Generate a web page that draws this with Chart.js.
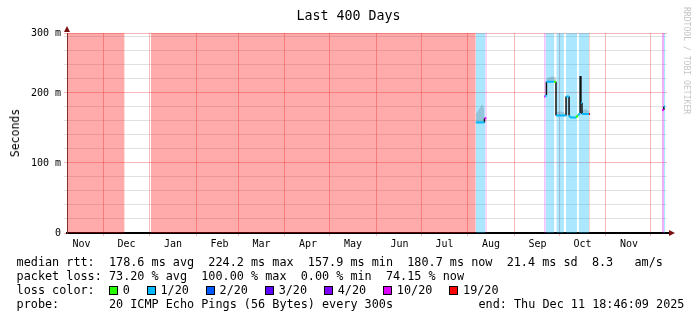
<!DOCTYPE html>
<html>
<head>
<meta charset="utf-8">
<script src="https://cdn.jsdelivr.net/npm/chart.js@4.4.1/dist/chart.umd.min.js"></script>
<style>
body { margin: 0; background: #fff; }
#wrap { position: relative; width: 697px; height: 321px; font-family: 'DejaVu Sans Mono', monospace; color: #000; overflow: hidden; }
#chart { position: absolute; left: 0; top: 0; }
.title { position: absolute; left: 0; top: 8px; width: 697px; text-align: center; font-size: 13.3px; line-height: 16px; }
.unit { position: absolute; left: 15px; top: 133px; transform: translate(-50%, -50%) rotate(-90deg); font-size: 11.5px; white-space: nowrap; }
.legend { position: absolute; left: 16.6px; top: 254.5px; font-size: 11.8px; line-height: 14px; white-space: pre; }
.legend .box { display: inline-block; width: 7px; height: 7px; border: 1px solid #000; vertical-align: -1px; margin-right: 4.7px; }
.legend .lbl { margin-right: 17px; }
.end { position: absolute; left: 478.5px; top: 296.5px; font-size: 11.8px; line-height: 14px; white-space: pre; }
.mark { position: absolute; left: 682px; top: 7px; writing-mode: vertical-rl; font-size: 8.1px; color: #c4c4c4; white-space: nowrap; }
</style>
</head>
<body>
<div id="wrap">
  <canvas id="chart" width="697" height="321"></canvas>
  <div class="title">Last 400 Days</div>
  <div class="unit">Seconds</div>
  <div class="legend" id="legend"></div>
  <div class="end">end: Thu Dec 11 18:46:09 2025</div>
  <div class="mark">RRDTOOL / TOBI OETIKER</div>
</div>
<script>
// time axis: days since start of the 400 day window
const endTime = Date.UTC(2025, 11, 11, 18, 46, 9);
const spanDays = 400;
const monthStarts = ['2024-11-01', '2024-12-01', '2025-01-01', '2025-02-01', '2025-03-01', '2025-04-01', '2025-05-01',
    '2025-06-01', '2025-07-01', '2025-08-01', '2025-09-01', '2025-10-01', '2025-11-01', '2025-12-01'];
const monthLabels = ['Nov', 'Dec', 'Jan', 'Feb', 'Mar', 'Apr', 'May', 'Jun', 'Jul', 'Aug', 'Sep', 'Oct', 'Nov', 'Dec'];

// y axis (ms), rigid top
const yTop = 285.7;
const yTickValues = [0, 100, 200, yTop];
const yTickLabels = ['0', '100 m', '200 m', '300 m'];

// loss colours: 0, 1/20, 2/20, 3/20, 4/20, 10/20, 19/20
const lossLabels = ['0', '1/20', '2/20', '3/20', '4/20', '10/20', '19/20'];
const lossColors = ['#26ff00', '#00b8ff', '#0059ff', '#5e00ff', '#7e00ff', '#dd00ff', '#ff0000'];

// loss background bands (day from, day to, loss level)
const lossStart = [0, 56.0, 272.5, 278.9, 318.1, 319.1, 326.2, 332.7, 341.1, 348.2, 396.7, 398.0];
const lossEnd   = [38.4, 272.5, 278.9, 279.8, 319.1, 324.9, 331.3, 340.0, 348.2, 348.8, 398.0, 398.9];
const lossLevel = [6, 6, 1, 5, 5, 1, 1, 1, 1, 6, 5, 1];

// median rtt (ms) with loss level of the following segment
const medianDays = [272.5, 278.3, 278.3, 279.6, null,
    318.1, 319.0, 319.6, 319.6, 324.6, 326.0, 326.0, 332.7, 332.7, 334.7, 334.7, 335.6, 339.4, 340.6,
    342.1, 342.1, 342.6, 342.6, 343.3, 343.3, 347.9, 348.7, null,
    396.8, 397.9, 397.9, 398.8];
const medianMs = [158, 158, 164, 164, null,
    195, 195, 197, 216, 216, 216, 168, 168, 195, 195, 168, 165, 165, 168,
    171, 224.2, 224.2, 186, 186, 170, 170, 170, null,
    175.7, 175.7, 180.7, 180.7];
const medianLoss = [1, 1, 5, 5, 0,
    5, 1, 1, 1, 0, 0, 1, 1, 1, 1, 1, 1, 0, 1,
    1, 1, 1, 1, 1, 1, 6, 6, 0,
    5, 5, 1, 1];

// smoke (ping spread) around the median
const smokeDays = [272.5, 275.0, 276.8, 278.3, null, 319.6, 322.0, 324.0, 326.0, null,
    326.0, 329.0, 332.7, null, 343.3, 346.0, 348.0];
const smokeLow  = [158, 158, 158, 158, null, 216, 216, 216, 216, null, 168, 168, 168, null, 170, 170, 170];
const smokeHigh = [170, 178, 184, 176, null, 221, 223, 224, 222, null, 172, 174, 171, null, 175, 177, 174];

const startTime = endTime - spanDays * 86400000;
const toDay = s => (Date.parse(s + 'T00:00:00Z') - startTime) / 86400000;
const gridDays = monthStarts.map(toDay).filter(d => d > 0 && d < spanDays);
const labelDays = [];
const labelAt = new Map();
monthStarts.forEach((s, i) => {
    const d = toDay(s) + 15.5;
    if (d > 0 && d < spanDays) { labelDays.push(d); labelAt.set(d, monthLabels[i]); }
});

function rgba(hex, a) {
    const n = parseInt(hex.slice(1), 16);
    return 'rgba(' + (n >> 16) + ',' + ((n >> 8) & 255) + ',' + (n & 255) + ',' + a + ')';
}

function points(xs, ys) {
    let last = 0;
    return xs.map((x, i) => {
        if (x === null) return { x: last, y: null };
        last = x;
        return { x: x, y: ys[i] };
    });
}

// pairs of median points, split by step type
function medianPieces(keep) {
    const pts = [];
    for (let i = 0; i + 1 < medianDays.length; i++) {
        if (medianMs[i] === null || medianMs[i + 1] === null) continue;
        if (!keep(i)) continue;
        pts.push({ x: medianDays[i], y: medianMs[i] }, { x: medianDays[i + 1], y: medianMs[i + 1] }, { x: medianDays[i + 1], y: null });
    }
    return pts;
}

const MAJOR = 'rgba(230,70,70,0.38)';
const MINOR = 'rgba(170,170,170,0.35)';
const FONT = 'DejaVu Sans Mono';

const datasets = [];

// black vertical steps of the median
datasets.push({
    data: medianPieces(i => medianDays[i] === medianDays[i + 1]),
    borderColor: '#111',
    borderWidth: 1.5,
    pointRadius: 0,
    spanGaps: false,
    order: 1
});

// coloured flat parts of the median, one dataset per loss level
lossColors.forEach((c, L) => {
    const pts = medianPieces(i => medianLoss[i] === L && medianDays[i] !== medianDays[i + 1]);
    if (pts.length) {
        datasets.push({ data: pts, borderColor: c, borderWidth: 2, pointRadius: 0, spanGaps: false, order: 0 });
    }
});

datasets.push({
    data: points(smokeDays, smokeLow),
    borderWidth: 0, pointRadius: 0, spanGaps: false, fill: false, order: 2
});
datasets.push({
    data: points(smokeDays, smokeHigh),
    borderWidth: 0, pointRadius: 0, spanGaps: false,
    fill: '-1', backgroundColor: 'rgba(0,0,0,0.15)', order: 2
});

lossStart.forEach((s, i) => {
    datasets.push({
        data: [{ x: s, y: yTop }, { x: lossEnd[i], y: yTop }],
        borderWidth: 0,
        pointRadius: 0,
        fill: 'origin',
        backgroundColor: rgba(lossColors[lossLevel[i]], 0.33),
        order: 3
    });
});

const arrows = {
    id: 'arrows',
    afterDraw(chart) {
        const { ctx, chartArea: a } = chart;
        ctx.save();
        ctx.strokeStyle = '#000';
        ctx.lineWidth = 2;
        ctx.beginPath();
        ctx.moveTo(a.right, a.bottom);
        ctx.lineTo(a.right + 3, a.bottom);
        ctx.stroke();
        ctx.fillStyle = '#7a1010';
        ctx.beginPath();
        ctx.moveTo(a.right + 2, a.bottom - 3);
        ctx.lineTo(a.right + 8, a.bottom);
        ctx.lineTo(a.right + 2, a.bottom + 3);
        ctx.closePath();
        ctx.fill();
        ctx.beginPath();
        ctx.moveTo(a.left - 3, a.top - 1);
        ctx.lineTo(a.left, a.top - 7);
        ctx.lineTo(a.left + 3, a.top - 1);
        ctx.closePath();
        ctx.fill();
        ctx.restore();
    }
};

new Chart(document.getElementById('chart'), {
    type: 'line',
    data: { datasets: datasets },
    options: {
        responsive: false,
        animation: false,
        devicePixelRatio: 1,
        layout: { padding: { left: 0, right: 30, top: 33, bottom: 68 } },
        plugins: { legend: { display: false }, tooltip: { enabled: false } },
        scales: {
            x: {
                type: 'linear',
                min: 0,
                max: spanDays,
                z: 1,
                afterBuildTicks: s => {
                    s.ticks = gridDays.concat(labelDays).sort((a, b) => a - b).map(v => ({ value: v }));
                },
                afterFit: s => { s.height = 20; },
                ticks: {
                    autoSkip: false,
                    maxRotation: 0,
                    minRotation: 0,
                    padding: 2,
                    color: '#000',
                    font: { family: FONT, size: 10 },
                    callback: v => labelAt.get(v) || ''
                },
                grid: {
                    tickLength: 3,
                    color: ctx => (ctx.tick && labelAt.has(ctx.tick.value)) ? 'rgba(0,0,0,0)' : MAJOR
                },
                border: { color: '#000', width: 2 }
            },
            y: {
                type: 'linear',
                min: 0,
                max: yTop,
                z: 1,
                afterBuildTicks: s => {
                    const t = [];
                    for (let v = 0; v < yTop - 1; v += 20) t.push({ value: v });
                    t.push({ value: yTop });
                    s.ticks = t;
                },
                afterFit: s => { s.width = 67; },
                ticks: {
                    autoSkip: false,
                    padding: 3,
                    color: '#000',
                    font: { family: FONT, size: 10 },
                    callback: v => {
                        const i = yTickValues.indexOf(v);
                        return i >= 0 ? yTickLabels[i] : '';
                    }
                },
                grid: {
                    tickLength: 3,
                    color: ctx => (ctx.tick && yTickValues.includes(ctx.tick.value)) ? MAJOR : MINOR
                },
                border: { color: '#444', width: 1 }
            }
        }
    },
    plugins: [arrows]
});

// legend lines
const legend = document.getElementById('legend');
let html = 'median rtt:  178.6 ms avg  224.2 ms max  157.9 ms min  180.7 ms now  21.4 ms sd  8.3   am/s\n';
html += 'packet loss: 73.20 % avg  100.00 % max  0.00 % min  74.15 % now\n';
html += 'loss color:  ';
lossLabels.forEach((l, i) => {
    html += '<span class="box" style="background:' + lossColors[i] + '"></span><span class="lbl">' + l + '</span>';
});
html += '\nprobe:       20 ICMP Echo Pings (56 Bytes) every 300s';
legend.innerHTML = html;
</script>
</body>
</html>
